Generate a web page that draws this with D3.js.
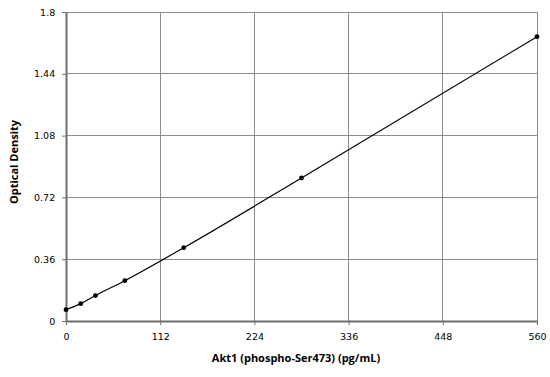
<!DOCTYPE html>
<html><head><meta charset="utf-8">
<script src="https://cdn.jsdelivr.net/npm/d3@7"></script>
<style>body{margin:0;background:#fff}svg{display:block}</style>
</head><body>
<script>
const concentrations = [0, 17.5, 35, 70, 140, 280, 560];
const opticalDensity = [0.066, 0.101, 0.148, 0.235, 0.427, 0.833, 1.656];
const xTicks = [0, 112, 224, 336, 448, 560];
const yTicks = [0, 0.36, 0.72, 1.08, 1.44, 1.8];
const xTitle = "Akt1 (phospho-Ser473) (pg/mL)";
const yTitle = "Optical Density";

const W = 550, H = 377;
const m = {left: 66, top: 12, right: 13, bottom: 56};
const svg = d3.select("body").append("svg").attr("width", W).attr("height", H);
const x = d3.scaleLinear().domain([0, 560]).range([m.left, W - m.right]);
const y = d3.scaleLinear().domain([0, 1.8]).range([H - m.bottom, m.top]);
const data = concentrations.map((c, i) => ({c, v: opticalDensity[i]}));

// grid
svg.append("g").selectAll("line").data(xTicks.slice(1)).join("line")
  .attr("x1", d => x(d)).attr("x2", d => x(d)).attr("y1", y(1.8)).attr("y2", y(0))
  .attr("stroke", "#8c8c8c").attr("stroke-width", 1).attr("shape-rendering", "crispEdges");
svg.append("g").selectAll("line").data(yTicks.slice(1)).join("line")
  .attr("x1", x(0)).attr("x2", x(560)).attr("y1", d => y(d)).attr("y2", d => y(d))
  .attr("stroke", "#8c8c8c").attr("stroke-width", 1).attr("shape-rendering", "crispEdges");

// axes
const xAxis = svg.append("g").attr("transform", `translate(0,${y(0)})`)
  .call(d3.axisBottom(x).tickValues(xTicks).tickFormat(d3.format("d")).tickSize(4).tickSizeOuter(0));
const yAxis = svg.append("g").attr("transform", `translate(${x(0)},0)`)
  .call(d3.axisLeft(y).tickValues(yTicks).tickFormat(d => d === 0 ? "0" : String(+d.toFixed(2))).tickSize(4).tickSizeOuter(0));
[xAxis, yAxis].forEach(g => {
  g.select(".domain").attr("stroke", "#6e6e6e").attr("stroke-width", 2);
  g.selectAll(".tick line").attr("stroke", "#6e6e6e");
  g.selectAll("text").attr("font-family", "DejaVu Sans, Verdana, sans-serif").attr("font-size", 9.5).attr("fill", "#000");
});
xAxis.selectAll("text").attr("dy", "1.3em");
yAxis.selectAll("text").attr("dx", "-0.4em");

// curve
svg.append("path").datum(data)
  .attr("d", d3.line().x(d => x(d.c)).y(d => y(d.v)).curve(d3.curveMonotoneX))
  .attr("fill", "none").attr("stroke", "#000").attr("stroke-width", 1.2);
svg.append("g").selectAll("circle").data(data).join("circle")
  .attr("cx", d => x(d.c)).attr("cy", d => y(d.v)).attr("r", 2.4).attr("fill", "#000");

// titles
svg.append("text").attr("x", 296).attr("y", 362).attr("text-anchor", "middle")
  .attr("font-family", "Open Sans, sans-serif").attr("font-weight", "bold").attr("font-size", 11).text(xTitle);
svg.append("text").attr("transform", "translate(18,162) rotate(-90)").attr("text-anchor", "middle")
  .attr("font-family", "Open Sans, sans-serif").attr("font-weight", "bold").attr("font-size", 11).text(yTitle);
</script>
</body></html>
